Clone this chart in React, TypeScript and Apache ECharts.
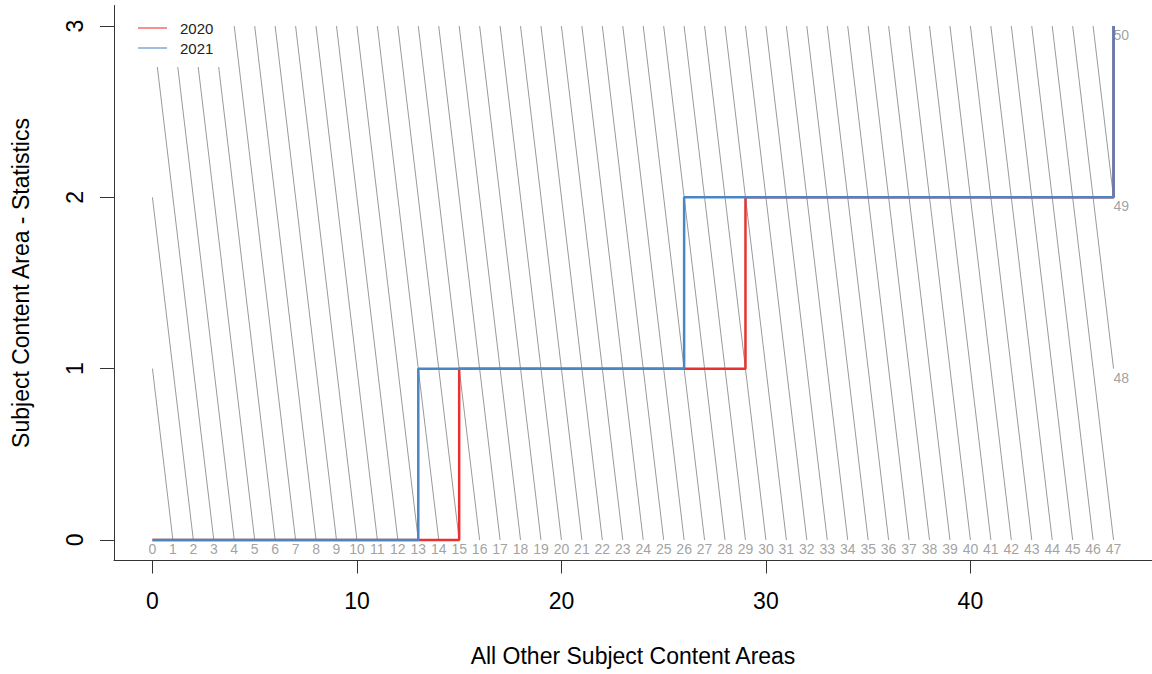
import React, { useEffect, useRef } from "react";
import * as echarts from "echarts";

// Score levels reached on the y axis (Statistics) and the x score at which each level is reached
const STAT_LEVELS = [0, 1, 2, 3];
const OTHER_2020 = [0, 15, 29, 47];
const OTHER_2021 = [0, 13, 26, 47];
const SERIES_NAMES = ["2020", "2021"];
const SERIES_COLORS = ["#E8322F", "#4A86C3"];

const X_TICKS = [0, 10, 20, 30, 40];
const Y_TICKS = [0, 1, 2, 3];
const X_MAX_SCORE = 47;
const Y_MAX_SCORE = 3;
const TOTAL_SCORES = Array.from({ length: X_MAX_SCORE + Y_MAX_SCORE + 1 }, (_, i) => i);

const X_TITLE = "All Other Subject Content Areas";
const Y_TITLE = "Subject Content Area - Statistics";

export default function App() {
  const ref = useRef<HTMLDivElement | null>(null);

  useEffect(() => {
    if (!ref.current) return;
    const chart = echarts.init(ref.current, undefined, { renderer: "svg" });

    const isoSegments = TOTAL_SCORES.filter((t) => t > 0 && t < X_MAX_SCORE + Y_MAX_SCORE).map((t) => {
      const x0 = Math.min(t, X_MAX_SCORE);
      const x1 = Math.max(0, t - Y_MAX_SCORE);
      return { coords: [[x0, t - x0], [x1, t - x1]] };
    });
    const bottomLabels = TOTAL_SCORES.filter((t) => t <= X_MAX_SCORE).map((t) => [t, 0, t]);
    const rightLabels = TOTAL_SCORES.filter((t) => t > X_MAX_SCORE).map((t) => [X_MAX_SCORE, t - X_MAX_SCORE, t]);

    const stepData = (xs: number[]) => xs.map((x, i) => [x, STAT_LEVELS[i]]);

    const font = "Liberation Sans, Arial, sans-serif";
    const axisText = { color: "#000", fontSize: 23, fontFamily: font };

    chart.setOption({
      animation: false,
      backgroundColor: "#fff",
      grid: { left: 114, top: 5.5, width: 1042, height: 555 },
      xAxis: {
        type: "value",
        min: -1.88,
        max: 48.88,
        name: X_TITLE,
        nameLocation: "middle",
        nameGap: 84,
        nameTextStyle: { ...axisText },
        splitLine: { show: false },
        axisLine: { show: true, onZero: false, lineStyle: { color: "#333", width: 1 } },
        axisTick: { show: true, customValues: X_TICKS, length: 13, lineStyle: { color: "#333", width: 1 } },
        axisLabel: { customValues: X_TICKS, margin: 29, ...axisText },
      },
      yAxis: {
        type: "value",
        min: -0.12,
        max: 3.12,
        name: Y_TITLE,
        nameLocation: "middle",
        nameGap: 82,
        nameRotate: 90,
        nameTextStyle: { ...axisText },
        splitLine: { show: false },
        axisLine: { show: true, onZero: false, lineStyle: { color: "#333", width: 1 } },
        axisTick: { show: true, customValues: Y_TICKS, length: 14, lineStyle: { color: "#333", width: 1 } },
        axisLabel: { customValues: Y_TICKS, rotate: 90, margin: 28, ...axisText },
      },
      series: [
        {
          type: "lines",
          coordinateSystem: "cartesian2d",
          data: isoSegments,
          silent: true,
          z: 1,
          lineStyle: { color: "#9a9a9a", width: 1, opacity: 1 },
        },
        {
          type: "scatter",
          data: bottomLabels,
          symbolSize: 1,
          silent: true,
          z: 1,
          itemStyle: { color: "transparent" },
          label: {
            show: true,
            formatter: (p: any) => String(p.data[2]),
            position: [0.5, 2.5],
            align: "center",
            verticalAlign: "top",
            color: "#8a8a8a",
            fontSize: 14,
            fontFamily: font,
          },
        },
        {
          type: "scatter",
          data: rightLabels,
          symbolSize: 1,
          silent: true,
          z: 1,
          itemStyle: { color: "transparent" },
          label: {
            show: true,
            formatter: (p: any) => String(p.data[2]),
            position: [0.5, 2.5],
            align: "left",
            verticalAlign: "top",
            color: "#8a8a8a",
            fontSize: 14,
            fontFamily: font,
          },
        },
        {
          name: SERIES_NAMES[0],
          type: "line",
          step: "end",
          data: stepData(OTHER_2020),
          showSymbol: false,
          symbol: "none",
          z: 3,
          color: SERIES_COLORS[0],
          lineStyle: { color: SERIES_COLORS[0], width: 2.5 },
        },
        {
          name: SERIES_NAMES[1],
          type: "line",
          step: "end",
          data: stepData(OTHER_2021),
          showSymbol: false,
          symbol: "none",
          z: 4,
          color: SERIES_COLORS[1],
          lineStyle: { color: SERIES_COLORS[1], width: 2.5 },
        },
      ],
      graphic: [
        {
          type: "rect",
          z: 50,
          shape: { x: 115, y: 6, width: 117, height: 61 },
          style: { fill: "#fff" },
          silent: true,
        },
        ...SERIES_NAMES.flatMap((name, i) => [
          {
            type: "line",
            z: 51,
            shape: { x1: 138, y1: 28 + i * 20, x2: 167, y2: 28 + i * 20 },
            style: { stroke: SERIES_COLORS[i], lineWidth: 1.5, opacity: 0.7 },
            silent: true,
          },
          {
            type: "text",
            z: 51,
            x: 180,
            y: 28 + i * 20,
            style: {
              text: name,
              fill: "#222",
              fontSize: 15,
              fontFamily: font,
              verticalAlign: "middle",
            },
            silent: true,
          },
        ]),
      ],
    });

    return () => chart.dispose();
  }, []);

  return (
    <div
      ref={ref}
      style={{ position: "absolute", left: 0, top: 0, width: 1152, height: 674, background: "#fff" }}
    />
  );
}
